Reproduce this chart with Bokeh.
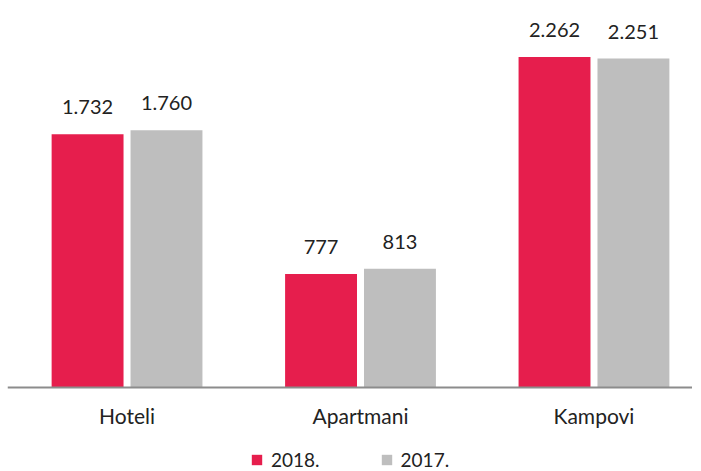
from bokeh.plotting import figure
from bokeh.models import Range1d, ColumnDataSource, Legend, LegendItem, Span
from bokeh.embed import file_html
from bokeh.resources import INLINE
from bokeh.core.properties import value

categories = ["Hoteli", "Apartmani", "Kampovi"]
series_names = ["2018.", "2017."]
values_2018 = [1732, 777, 2262]
values_2017 = [1760, 813, 2251]
colors = ["#E61E4D", "#BEBEBE"]

def fmt(v):
    return f"{v:,}".replace(",", ".")

xs = list(range(len(categories)))
off = 0.169
bw = 0.308

p = figure(frame_width=685, frame_height=464, output_backend="svg", toolbar_location=None,
           x_range=Range1d(-0.512, 2.422), y_range=Range1d(-575, 2600),
           min_border_left=7, min_border_right=0, min_border_top=7, min_border_bottom=0)
p.outline_line_color = None
p.xgrid.visible = False
p.ygrid.visible = False
p.yaxis.visible = False
p.xaxis.visible = False

renderers = []
for i, (vals, col) in enumerate(zip([values_2018, values_2017], colors)):
    dx = -off if i == 0 else off
    src = ColumnDataSource(dict(x=[x + dx for x in xs], top=vals, lab=[fmt(v) for v in vals]))
    r = p.vbar(x="x", top="top", width=bw, bottom=0, source=src, fill_color=col, line_color=None)
    renderers.append(r)
    p.text(x="x", y="top", text="lab", source=src, text_align="center", text_baseline="bottom",
           y_offset=-20, text_font=value("Lato"), text_font_size="20px", text_color="#222222")

p.add_layout(Span(location=0, dimension="width", line_color="#8c8c8c", line_width=2))

cat_src = ColumnDataSource(dict(x=xs, y=[0] * len(xs), t=categories))
p.text(x="x", y="y", text="t", source=cat_src, text_align="center", text_baseline="middle",
       y_offset=28, text_font=value("Lato"), text_font_size="21px", text_color="#222222")

legend = Legend(items=[LegendItem(label=series_names[k], renderers=[renderers[k]]) for k in range(2)],
                orientation="horizontal", location=(243, 0),
                label_text_font="Lato", label_text_font_size="19px", label_text_color="#222222",
                glyph_width=13, glyph_height=13, spacing=60, label_standoff=8, label_height=13,
                border_line_color=None, background_fill_alpha=0, padding=0, margin=0)
p.add_layout(legend, "center")

open("out.html", "w").write(file_html(p, INLINE))
